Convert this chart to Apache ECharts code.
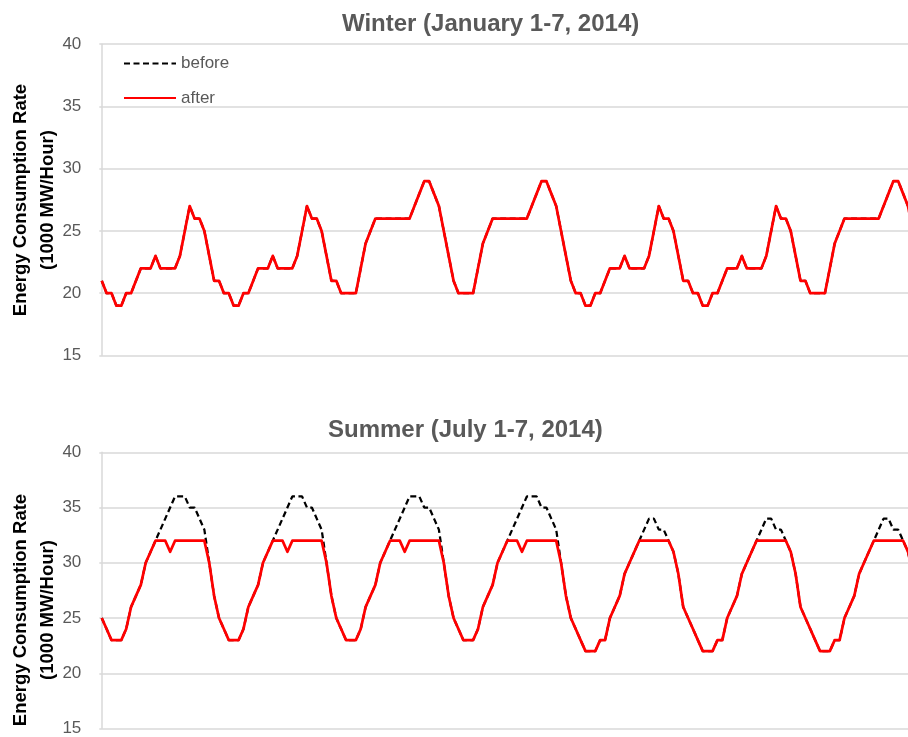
<!DOCTYPE html>
<html><head><meta charset="utf-8">
<script src="https://cdn.jsdelivr.net/npm/echarts@6/dist/echarts.min.js"></script>
<style>html,body{margin:0;padding:0;background:#fff}#c{width:908px;height:737px}</style>
</head><body><div id="c"></div>
<script>
// ---- data (hourly, 1000 MW/Hour) ----
const yTicks = [15, 20, 25, 30, 35, 40];
const winterTitle = 'Winter (January 1-7, 2014)';
const summerTitle = 'Summer (July 1-7, 2014)';
const seriesNames = ['before', 'after'];

const winterBefore = [
  21,20,20,19,19,20,20,21,22,22,22,23,22,22,22,22,23,25,27,26,26,25,23,21,
  21,20,20,19,19,20,20,21,22,22,22,23,22,22,22,22,23,25,27,26,26,25,23,21,
  21,20,20,20,20,22,24,25,26,26,26,26,26,26,26,26,27,28,29,29,28,27,25,23,
  21,20,20,20,20,22,24,25,26,26,26,26,26,26,26,26,27,28,29,29,28,27,25,23,
  21,20,20,19,19,20,20,21,22,22,22,23,22,22,22,22,23,25,27,26,26,25,23,21,
  21,20,20,19,19,20,20,21,22,22,22,23,22,22,22,22,23,25,27,26,26,25,23,21,
  21,20,20,20,20,22,24,25,26,26,26,26,26,26,26,26,27,28,29,29,28,27,25,23
];
const winterAfter = [
  21,20,20,19,19,20,20,21,22,22,22,23,22,22,22,22,23,25,27,26,26,25,23,21,
  21,20,20,19,19,20,20,21,22,22,22,23,22,22,22,22,23,25,27,26,26,25,23,21,
  21,20,20,20,20,22,24,25,26,26,26,26,26,26,26,26,27,28,29,29,28,27,25,23,
  21,20,20,20,20,22,24,25,26,26,26,26,26,26,26,26,27,28,29,29,28,27,25,23,
  21,20,20,19,19,20,20,21,22,22,22,23,22,22,22,22,23,25,27,26,26,25,23,21,
  21,20,20,19,19,20,20,21,22,22,22,23,22,22,22,22,23,25,27,26,26,25,23,21,
  21,20,20,20,20,22,24,25,26,26,26,26,26,26,26,26,27,28,29,29,28,27,25,23
];
const summerBefore = [
  25,24,23,23,23,24,26,27,28,30,31,32,33,34,35,36,36,36,35,35,34,33,30,27,
  25,24,23,23,23,24,26,27,28,30,31,32,33,34,35,36,36,36,35,35,34,33,30,27,
  25,24,23,23,23,24,26,27,28,30,31,32,33,34,35,36,36,36,35,35,34,33,30,27,
  25,24,23,23,23,24,26,27,28,30,31,32,33,34,35,36,36,36,35,35,34,33,30,27,
  25,24,23,22,22,22,23,23,25,26,27,29,30,31,32,33,34,34,33,33,32,31,29,26,
  25,24,23,22,22,22,23,23,25,26,27,29,30,31,32,33,34,34,33,33,32,31,29,26,
  25,24,23,22,22,22,23,23,25,26,27,29,30,31,32,33,34,34,33,33,32,31,29,26
];
const summerAfter = [
  25,24,23,23,23,24,26,27,28,30,31,32,32,32,31,32,32,32,32,32,32,32,30,27,
  25,24,23,23,23,24,26,27,28,30,31,32,32,32,31,32,32,32,32,32,32,32,30,27,
  25,24,23,23,23,24,26,27,28,30,31,32,32,32,31,32,32,32,32,32,32,32,30,27,
  25,24,23,23,23,24,26,27,28,30,31,32,32,32,31,32,32,32,32,32,32,32,30,27,
  25,24,23,22,22,22,23,23,25,26,27,29,30,31,32,32,32,32,32,32,32,31,29,26,
  25,24,23,22,22,22,23,23,25,26,27,29,30,31,32,32,32,32,32,32,32,31,29,26,
  25,24,23,22,22,22,23,23,25,26,27,29,30,31,32,32,32,32,32,32,32,31,29,26
];
const hours = winterAfter.map((_, i) => i);

// ---- chart ----
const FONT = '"Liberation Sans", Arial, sans-serif';
const GRID_C = '#d9d9d9';
const TXT_C = '#595959';
const pairs = arr => hours.map((h, i) => [h, arr[i]]);

const yAxisBase = {
  type: 'value', min: yTicks[0], max: yTicks[yTicks.length - 1], interval: 5,
  axisLine: { show: true, lineStyle: { color: GRID_C, width: 1.5 } },
  axisTick: { show: false },
  axisLabel: { color: TXT_C, fontSize: 17, fontFamily: FONT, margin: 18 },
  splitLine: { show: true, lineStyle: { color: GRID_C, width: 1.5 } }
};
const xAxisBase = { type: 'value', min: -0.5, max: 165, show: false };

const beforeStyle = { color: '#000000', width: 2.25, type: [6, 3.5] };
const afterStyle = { color: '#ff0000', width: 2.75, join: 'round' };

function line(name, data, idx, style, z) {
  return {
    name, type: 'line', xAxisIndex: idx, yAxisIndex: idx, data: pairs(data),
    symbol: 'none', showSymbol: false, lineStyle: style, itemStyle: { color: style.color },
    z, silent: true, clip: true
  };
}

const axisTitle = (y) => ({
  type: 'text', x: 34, y, rotation: Math.PI / 2,
  style: {
    text: 'Energy Consumption Rate\n(1000 MW/Hour)', fill: '#000',
    fontFamily: FONT, fontWeight: 'bold', fontSize: 18.5, lineHeight: 27,
    align: 'center', verticalAlign: 'middle'
  }
});

const chart = echarts.init(document.getElementById('c'), null, { renderer: 'canvas' });
chart.setOption({
  animation: false,
  backgroundColor: '#ffffff',
  title: [
    { text: winterTitle, left: 342, top: 12, padding: 0,
      textStyle: { color: TXT_C, fontSize: 24, fontWeight: 'bold', fontFamily: FONT } },
    { text: summerTitle, left: 328, top: 418, padding: 0,
      textStyle: { color: TXT_C, fontSize: 24, fontWeight: 'bold', fontFamily: FONT } }
  ],
  legend: {
    data: seriesNames, orient: 'vertical', left: 123, top: 54.5, padding: 0,
    itemWidth: 52, itemHeight: 18, itemGap: 16.4, selectedMode: false,
    itemStyle: { opacity: 0 },
    textStyle: { color: TXT_C, fontSize: 17, fontFamily: FONT, lineHeight: 18 }
  },
  grid: [
    { left: 99.3, right: 0, top: 44.2, height: 311.3 },
    { left: 99.3, right: 0, top: 452.3, height: 280.4 }
  ],
  xAxis: [Object.assign({ gridIndex: 0 }, xAxisBase), Object.assign({ gridIndex: 1 }, xAxisBase)],
  yAxis: [Object.assign({ gridIndex: 0 }, yAxisBase), Object.assign({ gridIndex: 1 }, yAxisBase)],
  graphic: [axisTitle(200), axisTitle(610)],
  series: [
    line('before', winterBefore, 0, beforeStyle, 2),
    line('after', winterAfter, 0, afterStyle, 3),
    line('before', summerBefore, 1, beforeStyle, 2),
    line('after', summerAfter, 1, afterStyle, 3)
  ]
});
</script>
</body></html>
